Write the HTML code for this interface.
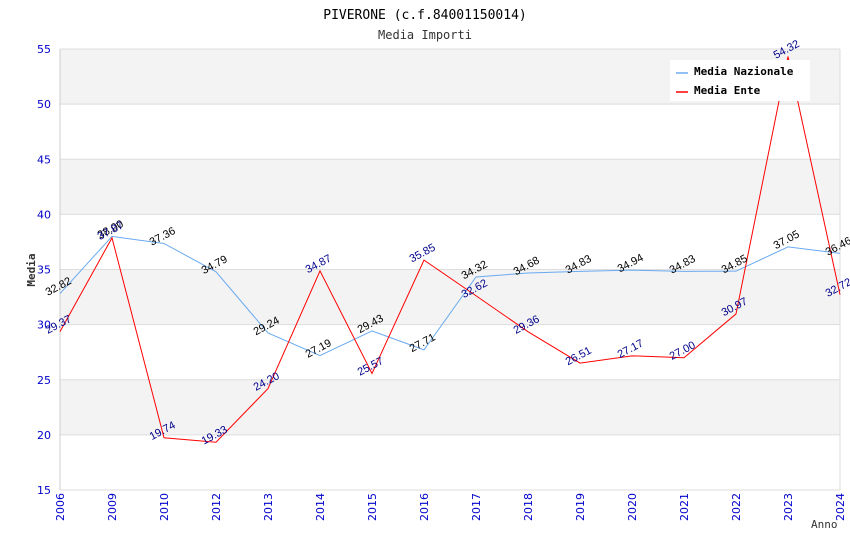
<!DOCTYPE html>
<html><head><meta charset="utf-8"><style>
body{margin:0;background:#fff}
svg text{font-family:"DejaVu Sans Mono","Liberation Mono",monospace}
svg text.s{font-family:"Liberation Sans","DejaVu Sans",sans-serif}
svg text.d{font-family:"DejaVu Sans","Liberation Sans",sans-serif}
</style></head><body>
<svg id="c" width="850" height="550" xmlns="http://www.w3.org/2000/svg">
<text x="425" y="19" text-anchor="middle" font-size="13" fill="#000">PIVERONE (c.f.84001150014)</text>
<text x="425" y="39" text-anchor="middle" font-size="12" fill="#333">Media Importi</text>
<g id="bands"></g><g id="grid"></g><g id="axes"></g><g id="series"></g><g id="labels"></g>
<text x="35" y="270" text-anchor="middle" font-size="11" font-weight="bold" fill="#333" transform="rotate(-90 35 270)">Media</text>
<text x="811" y="528" font-size="11" fill="#333">Anno</text>
<g>
<rect x="670" y="60" width="140" height="41" fill="#fff"/>
<line x1="676" y1="73" x2="688" y2="73" stroke="#6aaaf0" stroke-width="1.5"/>
<text x="694" y="75" font-size="11" font-weight="bold">Media Nazionale</text>
<line x1="676" y1="92" x2="688" y2="92" stroke="#f00" stroke-width="1.5"/>
<text x="694" y="94" font-size="11" font-weight="bold">Media Ente</text>
</g>
</svg>
<script>
const categories=["2006","2009","2010","2012","2013","2014","2015","2016","2017","2018","2019","2020","2021","2022","2023","2024"];
const nazionale=[32.82,38.00,37.36,34.79,29.24,27.19,29.43,27.71,34.32,34.68,34.83,34.94,34.83,34.85,37.05,36.46];
const ente=[29.37,37.87,19.74,19.33,24.20,34.87,25.57,35.85,32.62,29.36,26.51,27.17,27.00,30.97,54.32,32.72];
const yTicks=[15,20,25,30,35,40,45,50,55];
const L=60,R=840,T=49,B=490,ymin=15,ymax=55;
const NS="http://www.w3.org/2000/svg";
const xs=i=>L+(R-L)*i/(categories.length-1);
const ys=v=>B-(v-ymin)/(ymax-ymin)*(B-T);
function mk(tag,attrs,parent){const e=document.createElementNS(NS,tag);for(const k in attrs)e.setAttribute(k,attrs[k]);document.getElementById(parent).appendChild(e);return e;}
for(let i=0;i<yTicks.length-1;i++){
  const grey=(yTicks.length-2-i)%2==0;
  const b=mk('rect',{x:L,y:ys(yTicks[i+1]),width:R-L,height:ys(yTicks[i])-ys(yTicks[i+1]),fill:grey?'#f3f3f3':'#fff'},'bands');
  
  
}
yTicks.forEach(v=>{
  const g=mk('line',{x1:L,x2:R,y1:ys(v),y2:ys(v),stroke:'#ddd'},'grid');
  
  
  const t=mk('text',{x:L-9,y:ys(v)+4,'text-anchor':'end','font-size':11,fill:'#00c',class:'d'},'axes');
  t.textContent=v;
  
  
});
const ax=mk('line',{x1:L,x2:L,y1:T,y2:B,stroke:'#ccc'},'axes');


const ax2=mk('line',{x1:R,x2:R,y1:T,y2:B,stroke:'#ddd'},'axes');


categories.forEach((c,i)=>{
  const x=xs(i);
  const t=mk('text',{x:x+4,y:B+3,'text-anchor':'end','font-size':11,fill:'#00c',class:'d',transform:`rotate(-90 ${x+4} ${B+3})`},'axes');
  t.textContent=c;
  
  
});
function series(vals,color,name,lblColor){
  const p=mk('polyline',{points:vals.map((v,i)=>xs(i)+','+ys(v)).join(' '),fill:'none',stroke:color,'stroke-width':1},'series');
  
  
  vals.forEach((v,i)=>{
    const x=xs(i),y=ys(v)-4;
    const t=mk('text',{x:x,y:y,'text-anchor':'middle','font-size':11,fill:lblColor,class:'s',transform:`rotate(-28 ${x} ${y})`},'labels');
    t.textContent=v.toFixed(2);
    
    
  });
}
series(nazionale,'#6aaaf0','nazionale','#000');
series(ente,'#f00','ente','#00008b');
</script>
</body></html>
